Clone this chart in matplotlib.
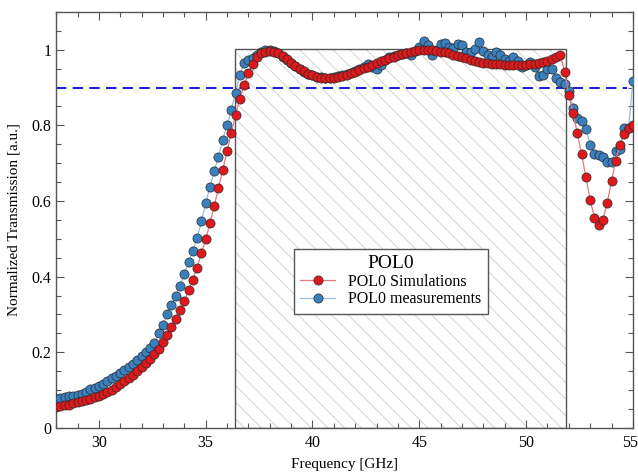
import numpy as np
import matplotlib.pyplot as plt
import matplotlib.transforms as mtransforms
from matplotlib.patches import Rectangle
from matplotlib.ticker import MultipleLocator

plt.rcParams['font.family'] = ['Liberation Serif', 'DejaVu Serif']
plt.rcParams['hatch.linewidth'] = 0.7

# frequency grid [GHz], 0.2 GHz step
freq = np.round(np.arange(28.0, 55.01, 0.2), 1)

sim = [
    0.055, 0.057, 0.060, 0.062, 0.065, 0.068, 0.071, 0.074, 0.077, 0.081,
    0.085, 0.089, 0.094, 0.100, 0.107, 0.117, 0.124, 0.132, 0.140, 0.150,
    0.160, 0.171, 0.183, 0.196, 0.210, 0.226, 0.247, 0.268, 0.289, 0.311,
    0.335, 0.364, 0.392, 0.424, 0.462, 0.499, 0.541, 0.587, 0.634, 0.682,
    0.731, 0.780, 0.827, 0.870, 0.907, 0.938, 0.963, 0.980, 0.990, 0.995,
    0.997, 0.995, 0.990, 0.983, 0.975, 0.966, 0.958, 0.950, 0.943, 0.937,
    0.932, 0.928, 0.925, 0.924, 0.924, 0.925, 0.927, 0.930, 0.934, 0.938,
    0.942, 0.946, 0.951, 0.955, 0.960, 0.965, 0.969, 0.974, 0.978, 0.982,
    0.986, 0.989, 0.992, 0.995, 0.997, 0.998, 0.999, 0.999, 0.998, 0.997,
    0.995, 0.993, 0.990, 0.987, 0.983, 0.980, 0.977, 0.974, 0.971, 0.968,
    0.966, 0.964, 0.963, 0.962, 0.961, 0.960, 0.960, 0.959, 0.959, 0.959,
    0.960, 0.961, 0.963, 0.965, 0.968, 0.971, 0.975, 0.980, 0.987, 0.942,
    0.881, 0.832, 0.779, 0.723, 0.663, 0.603, 0.556, 0.536, 0.551, 0.596,
    0.653, 0.707, 0.749, 0.778, 0.793, 0.800,
]

meas = [
    0.077, 0.080, 0.083, 0.085, 0.085, 0.087, 0.090, 0.095, 0.103, 0.106,
    0.110, 0.116, 0.123, 0.131, 0.138, 0.145, 0.153, 0.161, 0.170, 0.180,
    0.190, 0.201, 0.212, 0.225, 0.250, 0.272, 0.300, 0.326, 0.349, 0.376,
    0.407, 0.439, 0.468, 0.502, 0.546, 0.594, 0.637, 0.679, 0.717, 0.762,
    0.800, 0.841, 0.886, 0.933, 0.964, 0.972, 0.978, 0.985, 0.995, 1.000,
    1.000, 0.997, 0.990, 0.982, 0.974, 0.965, 0.957, 0.949, 0.942, 0.936,
    0.932, 0.929, 0.927, 0.926, 0.926, 0.928, 0.930, 0.932, 0.935, 0.939,
    0.943, 0.948, 0.955, 0.962, 0.955, 0.949, 0.960, 0.972, 0.980, 0.983,
    0.986, 0.988, 0.990, 0.986, 0.996, 1.008, 1.024, 1.012, 0.987, 1.000,
    1.015, 1.018, 1.006, 1.004, 1.015, 1.012, 0.993, 0.995, 1.002, 1.020,
    0.997, 0.986, 0.981, 0.993, 0.986, 0.975, 0.970, 0.980, 0.969, 0.953,
    0.960, 0.967, 0.955, 0.931, 0.934, 0.949, 0.949, 0.925, 0.914, 0.909,
    0.892, 0.846, 0.820, 0.811, 0.791, 0.749, 0.725, 0.722, 0.716, 0.703,
    0.704, 0.733, 0.738, 0.793, 0.793, 0.918,
]

xticks = [30, 35, 40, 45, 50, 55]
yticks = [0, 0.2, 0.4, 0.6, 0.8, 1.0]
ytick_labels = ['0', '0.2', '0.4', '0.6', '0.8', '1']

band = (36.35, 51.85)   # shaded passband
threshold = 0.9

fig = plt.figure(figsize=(6.38, 4.75), dpi=100)
ax = fig.add_axes([0.088, 0.099, 0.904, 0.876])

# hatched passband
ax.add_patch(Rectangle((band[0], 0), band[1] - band[0], 1.003, facecolor='white',
                       edgecolor='#d2d2d2', hatch='\\\\', linewidth=0, zorder=1))
ax.add_patch(Rectangle((band[0], 0), band[1] - band[0], 1.003, fill=False,
                       edgecolor='#555555', linewidth=1.0, zorder=1.5))

ax.axhline(threshold, xmax=0.99, color='#1f1fd6', linestyle=(0, (5, 3)), linewidth=1.5, zorder=2)

ax.plot(freq, meas, '-o', color='#95bde0', linewidth=0.9, markersize=6.6,
        markerfacecolor='#3a80bf', markeredgecolor='#2a2a2a', markeredgewidth=0.5,
        label='POL0 measurements', zorder=3)
ax.plot(freq, sim, '-o', color='#e87878', linewidth=0.9, markersize=6.6,
        markerfacecolor='#e0181c', markeredgecolor='#2a2a2a', markeredgewidth=0.5,
        label='POL0 Simulations', zorder=4)

ax.set_xlim(28, 55)
ax.set_ylim(0, 1.1)
ax.set_xticks(xticks)
ax.set_xticklabels([str(t) for t in xticks])
ax.xaxis.set_minor_locator(MultipleLocator(1))
ax.yaxis.set_minor_locator(MultipleLocator(0.05))
ax.set_yticks(yticks)
ax.set_yticklabels(ytick_labels)
ax.tick_params(which='both', direction='in', top=True, right=True, color='#555555',
               labelsize=11.5)
ax.tick_params(which='major', length=6, width=0.8)
ax.tick_params(which='minor', length=3.5, width=0.8)
ax.tick_params(axis='x', pad=5)
for s in ax.spines.values():
    s.set_color('#555555')
    s.set_linewidth(1.0)

ax.set_xlabel('Frequency [GHz]', fontsize=11, labelpad=5)
ax.set_ylabel('Normalized Transmission [a.u.]', fontsize=11, labelpad=8)

h, l = ax.get_legend_handles_labels()
leg = ax.legend(h[::-1], l[::-1], title='POL0', loc='center', bbox_to_anchor=(0.58, 0.353),
                fontsize=11.5, title_fontsize=14, fancybox=False, framealpha=1,
                edgecolor='#555555', handlelength=2.2, borderpad=0.4, labelspacing=0.1)
leg.get_frame().set_linewidth(1.0)
leg.set_zorder(6)

# keep the last x label inside the canvas
last = ax.xaxis.get_major_ticks()[-1].label1
last.set_horizontalalignment('right')
last.set_transform(last.get_transform() + mtransforms.ScaledTranslation(5 / 100, 0, fig.dpi_scale_trans))

fig.savefig('out.png', dpi=100)
